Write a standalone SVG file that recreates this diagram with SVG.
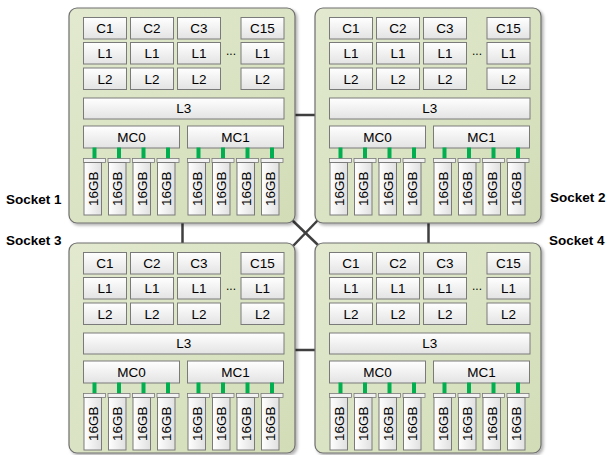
<svg xmlns="http://www.w3.org/2000/svg" width="606" height="455" viewBox="0 0 606 455">
<defs>
<linearGradient id="gBox" x1="0" y1="0" x2="1" y2="1"><stop offset="0" stop-color="#e2e9cf"/><stop offset="1" stop-color="#d2ddb7"/></linearGradient>
<linearGradient id="gCell" x1="0" y1="0" x2="0" y2="1"><stop offset="0" stop-color="#ffffff"/><stop offset="1" stop-color="#e3e3e3"/></linearGradient>
<linearGradient id="gDimm" x1="0" y1="0" x2="1" y2="0"><stop offset="0" stop-color="#ffffff"/><stop offset="1" stop-color="#e0e0e0"/></linearGradient>
<filter id="sh" x="-5%" y="-5%" width="115%" height="115%"><feDropShadow dx="2" dy="2" stdDeviation="1.5" flood-color="#000" flood-opacity="0.3"/></filter>
</defs>
<style>
.box{fill:url(#gBox);stroke:#6f6f6f;stroke-width:1.2;filter:url(#sh)}
.cell{fill:url(#gCell);stroke:#7a7a7a;stroke-width:1}
.dimm{fill:url(#gDimm);stroke:#7a7a7a;stroke-width:1}
.cap{fill:#f2f2f2;stroke:#7a7a7a;stroke-width:0.8}
.pin{fill:#00b050}
.t{font-family:"Liberation Sans",Arial,sans-serif;font-size:13.5px;fill:#000;text-anchor:middle}
.g{font-size:13.5px}
.lbl{font-family:"Liberation Sans",Arial,sans-serif;font-size:13.5px;font-weight:bold;fill:#000}
.conn{stroke:#3f3f3f;stroke-width:2.5;fill:none}
</style>
<rect width="606" height="455" fill="#fff"/>
<g id="connectors">
<line class="conn" x1="182.5" y1="222" x2="182.5" y2="244"/>
<line class="conn" x1="428.5" y1="222" x2="428.5" y2="244"/>
<line class="conn" x1="294" y1="115" x2="316" y2="115"/>
<line class="conn" x1="294" y1="350" x2="316" y2="350"/>
<line class="conn" x1="292" y1="220" x2="318" y2="245"/>
<line class="conn" x1="318" y1="220" x2="293" y2="246"/>
</g>
<g id="socket1" transform="translate(69,8)">
<rect class="box" x="0" y="0" width="226" height="215" rx="8"/>
<rect class="cell" x="14.5" y="9.5" width="43" height="21.5"/><rect class="cell" x="61.5" y="9.5" width="43" height="21.5"/><rect class="cell" x="108.5" y="9.5" width="43" height="21.5"/><rect class="cell" x="172" y="9.5" width="43" height="21.5"/>
<rect class="cell" x="14.5" y="34.5" width="43" height="21.5"/><rect class="cell" x="61.5" y="34.5" width="43" height="21.5"/><rect class="cell" x="108.5" y="34.5" width="43" height="21.5"/><rect class="cell" x="172" y="34.5" width="43" height="21.5"/>
<rect class="cell" x="14.5" y="60" width="43" height="21.5"/><rect class="cell" x="61.5" y="60" width="43" height="21.5"/><rect class="cell" x="108.5" y="60" width="43" height="21.5"/><rect class="cell" x="172" y="60" width="43" height="21.5"/>
<text class="t" x="36" y="25">C1</text><text class="t" x="83" y="25">C2</text><text class="t" x="130" y="25">C3</text><text class="t" x="193.5" y="25">C15</text>
<text class="t" x="36" y="50">L1</text><text class="t" x="83" y="50">L1</text><text class="t" x="130" y="50">L1</text><text class="t" x="193.5" y="50">L1</text>
<text class="t" x="36" y="75.5">L2</text><text class="t" x="83" y="75.5">L2</text><text class="t" x="130" y="75.5">L2</text><text class="t" x="193.5" y="75.5">L2</text>
<text class="t" x="162" y="46.5" style="font-size:12px">...</text>
<rect class="cell" x="14.5" y="90" width="200.5" height="21"/><text class="t" x="114.75" y="105">L3</text>
<rect class="cell" x="14.5" y="118" width="96" height="22"/><text class="t" x="62.5" y="133.5">MC0</text>
<rect class="cell" x="118.5" y="118" width="96" height="22"/><text class="t" x="166.5" y="133.5">MC1</text>
<rect class="pin" x="23.5" y="139.5" width="4" height="12"/><rect class="pin" x="48" y="139.5" width="4" height="12"/><rect class="pin" x="72.5" y="139.5" width="4" height="12"/><rect class="pin" x="97" y="139.5" width="4" height="12"/><rect class="pin" x="127.5" y="139.5" width="4" height="12"/><rect class="pin" x="152" y="139.5" width="4" height="12"/><rect class="pin" x="176.5" y="139.5" width="4" height="12"/><rect class="pin" x="201" y="139.5" width="4" height="12"/>
<rect class="cap" x="14.5" y="150.5" width="22" height="4"/><rect class="cap" x="39" y="150.5" width="22" height="4"/><rect class="cap" x="63.5" y="150.5" width="22" height="4"/><rect class="cap" x="88" y="150.5" width="22" height="4"/><rect class="cap" x="118.5" y="150.5" width="22" height="4"/><rect class="cap" x="143" y="150.5" width="22" height="4"/><rect class="cap" x="167.5" y="150.5" width="22" height="4"/><rect class="cap" x="192" y="150.5" width="22" height="4"/>
<rect class="dimm" x="15" y="154.5" width="17.5" height="52.5"/><rect class="dimm" x="39.5" y="154.5" width="17.5" height="52.5"/><rect class="dimm" x="64" y="154.5" width="17.5" height="52.5"/><rect class="dimm" x="88.5" y="154.5" width="17.5" height="52.5"/><rect class="dimm" x="119" y="154.5" width="17.5" height="52.5"/><rect class="dimm" x="143.5" y="154.5" width="17.5" height="52.5"/><rect class="dimm" x="168" y="154.5" width="17.5" height="52.5"/><rect class="dimm" x="192.5" y="154.5" width="17.5" height="52.5"/>
<text class="t g" transform="translate(23.75,180.75) rotate(-90)" y="4.8">16GB</text><text class="t g" transform="translate(48.25,180.75) rotate(-90)" y="4.8">16GB</text><text class="t g" transform="translate(72.75,180.75) rotate(-90)" y="4.8">16GB</text><text class="t g" transform="translate(97.25,180.75) rotate(-90)" y="4.8">16GB</text><text class="t g" transform="translate(127.75,180.75) rotate(-90)" y="4.8">16GB</text><text class="t g" transform="translate(152.25,180.75) rotate(-90)" y="4.8">16GB</text><text class="t g" transform="translate(176.75,180.75) rotate(-90)" y="4.8">16GB</text><text class="t g" transform="translate(201.25,180.75) rotate(-90)" y="4.8">16GB</text>
</g>
<g id="socket2" transform="translate(315,8)">
<rect class="box" x="0" y="0" width="226" height="215" rx="8"/>
<rect class="cell" x="14.5" y="9.5" width="43" height="21.5"/><rect class="cell" x="61.5" y="9.5" width="43" height="21.5"/><rect class="cell" x="108.5" y="9.5" width="43" height="21.5"/><rect class="cell" x="172" y="9.5" width="43" height="21.5"/>
<rect class="cell" x="14.5" y="34.5" width="43" height="21.5"/><rect class="cell" x="61.5" y="34.5" width="43" height="21.5"/><rect class="cell" x="108.5" y="34.5" width="43" height="21.5"/><rect class="cell" x="172" y="34.5" width="43" height="21.5"/>
<rect class="cell" x="14.5" y="60" width="43" height="21.5"/><rect class="cell" x="61.5" y="60" width="43" height="21.5"/><rect class="cell" x="108.5" y="60" width="43" height="21.5"/><rect class="cell" x="172" y="60" width="43" height="21.5"/>
<text class="t" x="36" y="25">C1</text><text class="t" x="83" y="25">C2</text><text class="t" x="130" y="25">C3</text><text class="t" x="193.5" y="25">C15</text>
<text class="t" x="36" y="50">L1</text><text class="t" x="83" y="50">L1</text><text class="t" x="130" y="50">L1</text><text class="t" x="193.5" y="50">L1</text>
<text class="t" x="36" y="75.5">L2</text><text class="t" x="83" y="75.5">L2</text><text class="t" x="130" y="75.5">L2</text><text class="t" x="193.5" y="75.5">L2</text>
<text class="t" x="162" y="46.5" style="font-size:12px">...</text>
<rect class="cell" x="14.5" y="90" width="200.5" height="21"/><text class="t" x="114.75" y="105">L3</text>
<rect class="cell" x="14.5" y="118" width="96" height="22"/><text class="t" x="62.5" y="133.5">MC0</text>
<rect class="cell" x="118.5" y="118" width="96" height="22"/><text class="t" x="166.5" y="133.5">MC1</text>
<rect class="pin" x="23.5" y="139.5" width="4" height="12"/><rect class="pin" x="48" y="139.5" width="4" height="12"/><rect class="pin" x="72.5" y="139.5" width="4" height="12"/><rect class="pin" x="97" y="139.5" width="4" height="12"/><rect class="pin" x="127.5" y="139.5" width="4" height="12"/><rect class="pin" x="152" y="139.5" width="4" height="12"/><rect class="pin" x="176.5" y="139.5" width="4" height="12"/><rect class="pin" x="201" y="139.5" width="4" height="12"/>
<rect class="cap" x="14.5" y="150.5" width="22" height="4"/><rect class="cap" x="39" y="150.5" width="22" height="4"/><rect class="cap" x="63.5" y="150.5" width="22" height="4"/><rect class="cap" x="88" y="150.5" width="22" height="4"/><rect class="cap" x="118.5" y="150.5" width="22" height="4"/><rect class="cap" x="143" y="150.5" width="22" height="4"/><rect class="cap" x="167.5" y="150.5" width="22" height="4"/><rect class="cap" x="192" y="150.5" width="22" height="4"/>
<rect class="dimm" x="15" y="154.5" width="17.5" height="52.5"/><rect class="dimm" x="39.5" y="154.5" width="17.5" height="52.5"/><rect class="dimm" x="64" y="154.5" width="17.5" height="52.5"/><rect class="dimm" x="88.5" y="154.5" width="17.5" height="52.5"/><rect class="dimm" x="119" y="154.5" width="17.5" height="52.5"/><rect class="dimm" x="143.5" y="154.5" width="17.5" height="52.5"/><rect class="dimm" x="168" y="154.5" width="17.5" height="52.5"/><rect class="dimm" x="192.5" y="154.5" width="17.5" height="52.5"/>
<text class="t g" transform="translate(23.75,180.75) rotate(-90)" y="4.8">16GB</text><text class="t g" transform="translate(48.25,180.75) rotate(-90)" y="4.8">16GB</text><text class="t g" transform="translate(72.75,180.75) rotate(-90)" y="4.8">16GB</text><text class="t g" transform="translate(97.25,180.75) rotate(-90)" y="4.8">16GB</text><text class="t g" transform="translate(127.75,180.75) rotate(-90)" y="4.8">16GB</text><text class="t g" transform="translate(152.25,180.75) rotate(-90)" y="4.8">16GB</text><text class="t g" transform="translate(176.75,180.75) rotate(-90)" y="4.8">16GB</text><text class="t g" transform="translate(201.25,180.75) rotate(-90)" y="4.8">16GB</text>
</g>
<g id="socket3" transform="translate(69,243)">
<rect class="box" x="0" y="0" width="226" height="210" rx="8"/>
<rect class="cell" x="14.5" y="9.5" width="43" height="21.5"/><rect class="cell" x="61.5" y="9.5" width="43" height="21.5"/><rect class="cell" x="108.5" y="9.5" width="43" height="21.5"/><rect class="cell" x="172" y="9.5" width="43" height="21.5"/>
<rect class="cell" x="14.5" y="34.5" width="43" height="21.5"/><rect class="cell" x="61.5" y="34.5" width="43" height="21.5"/><rect class="cell" x="108.5" y="34.5" width="43" height="21.5"/><rect class="cell" x="172" y="34.5" width="43" height="21.5"/>
<rect class="cell" x="14.5" y="60" width="43" height="21.5"/><rect class="cell" x="61.5" y="60" width="43" height="21.5"/><rect class="cell" x="108.5" y="60" width="43" height="21.5"/><rect class="cell" x="172" y="60" width="43" height="21.5"/>
<text class="t" x="36" y="25">C1</text><text class="t" x="83" y="25">C2</text><text class="t" x="130" y="25">C3</text><text class="t" x="193.5" y="25">C15</text>
<text class="t" x="36" y="50">L1</text><text class="t" x="83" y="50">L1</text><text class="t" x="130" y="50">L1</text><text class="t" x="193.5" y="50">L1</text>
<text class="t" x="36" y="75.5">L2</text><text class="t" x="83" y="75.5">L2</text><text class="t" x="130" y="75.5">L2</text><text class="t" x="193.5" y="75.5">L2</text>
<text class="t" x="162" y="46.5" style="font-size:12px">...</text>
<rect class="cell" x="14.5" y="90" width="200.5" height="21"/><text class="t" x="114.75" y="105">L3</text>
<rect class="cell" x="14.5" y="118" width="96" height="22"/><text class="t" x="62.5" y="133.5">MC0</text>
<rect class="cell" x="118.5" y="118" width="96" height="22"/><text class="t" x="166.5" y="133.5">MC1</text>
<rect class="pin" x="23.5" y="139.5" width="4" height="12"/><rect class="pin" x="48" y="139.5" width="4" height="12"/><rect class="pin" x="72.5" y="139.5" width="4" height="12"/><rect class="pin" x="97" y="139.5" width="4" height="12"/><rect class="pin" x="127.5" y="139.5" width="4" height="12"/><rect class="pin" x="152" y="139.5" width="4" height="12"/><rect class="pin" x="176.5" y="139.5" width="4" height="12"/><rect class="pin" x="201" y="139.5" width="4" height="12"/>
<rect class="cap" x="14.5" y="150.5" width="22" height="4"/><rect class="cap" x="39" y="150.5" width="22" height="4"/><rect class="cap" x="63.5" y="150.5" width="22" height="4"/><rect class="cap" x="88" y="150.5" width="22" height="4"/><rect class="cap" x="118.5" y="150.5" width="22" height="4"/><rect class="cap" x="143" y="150.5" width="22" height="4"/><rect class="cap" x="167.5" y="150.5" width="22" height="4"/><rect class="cap" x="192" y="150.5" width="22" height="4"/>
<rect class="dimm" x="15" y="154.5" width="17.5" height="52.5"/><rect class="dimm" x="39.5" y="154.5" width="17.5" height="52.5"/><rect class="dimm" x="64" y="154.5" width="17.5" height="52.5"/><rect class="dimm" x="88.5" y="154.5" width="17.5" height="52.5"/><rect class="dimm" x="119" y="154.5" width="17.5" height="52.5"/><rect class="dimm" x="143.5" y="154.5" width="17.5" height="52.5"/><rect class="dimm" x="168" y="154.5" width="17.5" height="52.5"/><rect class="dimm" x="192.5" y="154.5" width="17.5" height="52.5"/>
<text class="t g" transform="translate(23.75,180.75) rotate(-90)" y="4.8">16GB</text><text class="t g" transform="translate(48.25,180.75) rotate(-90)" y="4.8">16GB</text><text class="t g" transform="translate(72.75,180.75) rotate(-90)" y="4.8">16GB</text><text class="t g" transform="translate(97.25,180.75) rotate(-90)" y="4.8">16GB</text><text class="t g" transform="translate(127.75,180.75) rotate(-90)" y="4.8">16GB</text><text class="t g" transform="translate(152.25,180.75) rotate(-90)" y="4.8">16GB</text><text class="t g" transform="translate(176.75,180.75) rotate(-90)" y="4.8">16GB</text><text class="t g" transform="translate(201.25,180.75) rotate(-90)" y="4.8">16GB</text>
</g>
<g id="socket4" transform="translate(315,243)">
<rect class="box" x="0" y="0" width="226" height="210" rx="8"/>
<rect class="cell" x="14.5" y="9.5" width="43" height="21.5"/><rect class="cell" x="61.5" y="9.5" width="43" height="21.5"/><rect class="cell" x="108.5" y="9.5" width="43" height="21.5"/><rect class="cell" x="172" y="9.5" width="43" height="21.5"/>
<rect class="cell" x="14.5" y="34.5" width="43" height="21.5"/><rect class="cell" x="61.5" y="34.5" width="43" height="21.5"/><rect class="cell" x="108.5" y="34.5" width="43" height="21.5"/><rect class="cell" x="172" y="34.5" width="43" height="21.5"/>
<rect class="cell" x="14.5" y="60" width="43" height="21.5"/><rect class="cell" x="61.5" y="60" width="43" height="21.5"/><rect class="cell" x="108.5" y="60" width="43" height="21.5"/><rect class="cell" x="172" y="60" width="43" height="21.5"/>
<text class="t" x="36" y="25">C1</text><text class="t" x="83" y="25">C2</text><text class="t" x="130" y="25">C3</text><text class="t" x="193.5" y="25">C15</text>
<text class="t" x="36" y="50">L1</text><text class="t" x="83" y="50">L1</text><text class="t" x="130" y="50">L1</text><text class="t" x="193.5" y="50">L1</text>
<text class="t" x="36" y="75.5">L2</text><text class="t" x="83" y="75.5">L2</text><text class="t" x="130" y="75.5">L2</text><text class="t" x="193.5" y="75.5">L2</text>
<text class="t" x="162" y="46.5" style="font-size:12px">...</text>
<rect class="cell" x="14.5" y="90" width="200.5" height="21"/><text class="t" x="114.75" y="105">L3</text>
<rect class="cell" x="14.5" y="118" width="96" height="22"/><text class="t" x="62.5" y="133.5">MC0</text>
<rect class="cell" x="118.5" y="118" width="96" height="22"/><text class="t" x="166.5" y="133.5">MC1</text>
<rect class="pin" x="23.5" y="139.5" width="4" height="12"/><rect class="pin" x="48" y="139.5" width="4" height="12"/><rect class="pin" x="72.5" y="139.5" width="4" height="12"/><rect class="pin" x="97" y="139.5" width="4" height="12"/><rect class="pin" x="127.5" y="139.5" width="4" height="12"/><rect class="pin" x="152" y="139.5" width="4" height="12"/><rect class="pin" x="176.5" y="139.5" width="4" height="12"/><rect class="pin" x="201" y="139.5" width="4" height="12"/>
<rect class="cap" x="14.5" y="150.5" width="22" height="4"/><rect class="cap" x="39" y="150.5" width="22" height="4"/><rect class="cap" x="63.5" y="150.5" width="22" height="4"/><rect class="cap" x="88" y="150.5" width="22" height="4"/><rect class="cap" x="118.5" y="150.5" width="22" height="4"/><rect class="cap" x="143" y="150.5" width="22" height="4"/><rect class="cap" x="167.5" y="150.5" width="22" height="4"/><rect class="cap" x="192" y="150.5" width="22" height="4"/>
<rect class="dimm" x="15" y="154.5" width="17.5" height="52.5"/><rect class="dimm" x="39.5" y="154.5" width="17.5" height="52.5"/><rect class="dimm" x="64" y="154.5" width="17.5" height="52.5"/><rect class="dimm" x="88.5" y="154.5" width="17.5" height="52.5"/><rect class="dimm" x="119" y="154.5" width="17.5" height="52.5"/><rect class="dimm" x="143.5" y="154.5" width="17.5" height="52.5"/><rect class="dimm" x="168" y="154.5" width="17.5" height="52.5"/><rect class="dimm" x="192.5" y="154.5" width="17.5" height="52.5"/>
<text class="t g" transform="translate(23.75,180.75) rotate(-90)" y="4.8">16GB</text><text class="t g" transform="translate(48.25,180.75) rotate(-90)" y="4.8">16GB</text><text class="t g" transform="translate(72.75,180.75) rotate(-90)" y="4.8">16GB</text><text class="t g" transform="translate(97.25,180.75) rotate(-90)" y="4.8">16GB</text><text class="t g" transform="translate(127.75,180.75) rotate(-90)" y="4.8">16GB</text><text class="t g" transform="translate(152.25,180.75) rotate(-90)" y="4.8">16GB</text><text class="t g" transform="translate(176.75,180.75) rotate(-90)" y="4.8">16GB</text><text class="t g" transform="translate(201.25,180.75) rotate(-90)" y="4.8">16GB</text>
</g>
<g id="labels">
<text class="lbl" x="6" y="204">Socket 1</text>
<text class="lbl" x="550" y="202">Socket 2</text>
<text class="lbl" x="6" y="245">Socket 3</text>
<text class="lbl" x="549" y="245">Socket 4</text>
</g>
</svg>
